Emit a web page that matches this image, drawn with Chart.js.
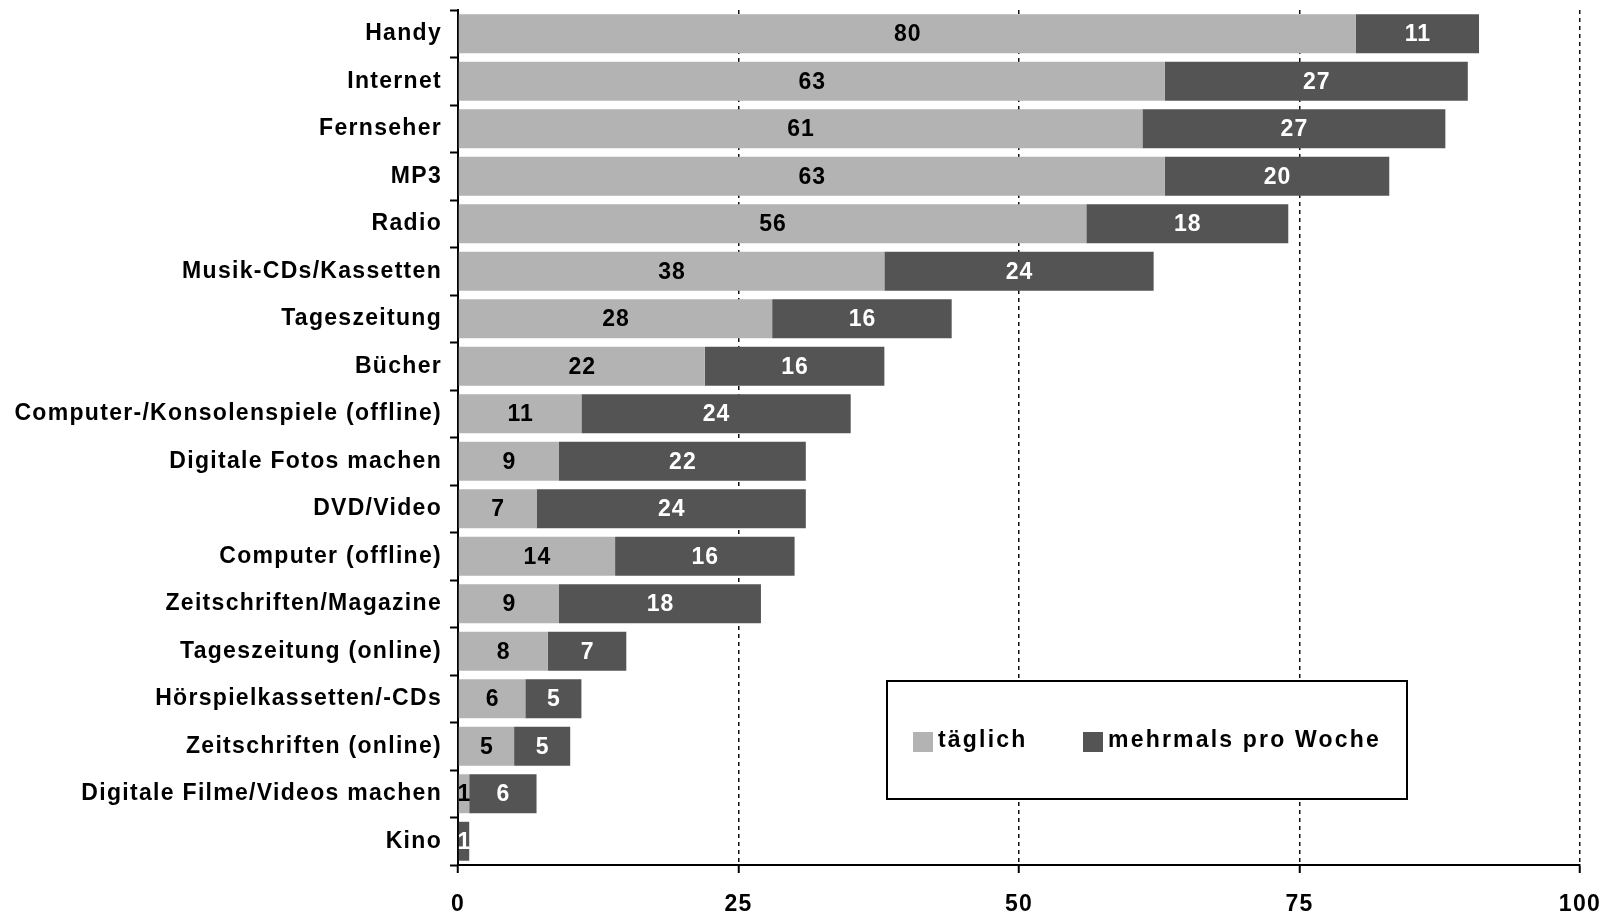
<!DOCTYPE html>
<html lang="de">
<head>
<meta charset="UTF-8">
<title>Mediennutzung</title>
<script src="https://cdn.jsdelivr.net/npm/chart.js"></script>
<style>
    html, body { margin: 0; padding: 0; background: #fff; }
    #wrap { width: 1608px; height: 911px; }
</style>
</head>
<body>
<div id="wrap"><canvas id="chart" width="1608" height="911"></canvas></div>
<script>
// categories and values (percent)
const categories = [
    'Handy', 'Internet', 'Fernseher', 'MP3', 'Radio', 'Musik-CDs/Kassetten',
    'Tageszeitung', 'Bücher', 'Computer-/Konsolenspiele (offline)',
    'Digitale Fotos machen', 'DVD/Video', 'Computer (offline)',
    'Zeitschriften/Magazine', 'Tageszeitung (online)', 'Hörspielkassetten/-CDs',
    'Zeitschriften (online)', 'Digitale Filme/Videos machen', 'Kino'
];
const taeglich = [80, 63, 61, 63, 56, 38, 28, 22, 11, 9, 7, 14, 9, 8, 6, 5, 1, 0];
const mehrmals = [11, 27, 27, 20, 18, 24, 16, 16, 24, 22, 24, 16, 18, 7, 5, 5, 6, 1];
const xTicks = [0, 25, 50, 75, 100];

const LIGHT = '#b3b3b3';
const DARK = '#545454';
const FONT = '"Liberation Sans", Arial, sans-serif';

// slightly spaced-out lettering for all text on the canvas
const spacing = {
    id: 'spacing',
    beforeDraw(chart) { chart.ctx.letterSpacing = '1.3px'; },
    afterDraw(chart) { chart.ctx.letterSpacing = '0px'; }
};

// value labels centred in each segment
const barLabels = {
    id: 'barLabels',
    afterDatasetsDraw(chart) {
        const ctx = chart.ctx;
        ctx.save();
        ctx.font = 'bold 23px ' + FONT;
        ctx.letterSpacing = '1px';
        ctx.textAlign = 'center';
        ctx.textBaseline = 'middle';
        chart.data.datasets.forEach((ds, i) => {
            const meta = chart.getDatasetMeta(i);
            ctx.fillStyle = i === 0 ? '#000' : '#fff';
            meta.data.forEach((bar, j) => {
                const v = ds.data[j];
                if (!v) return;
                ctx.fillText(String(v), (bar.x + bar.base) / 2 + 0.5, bar.y + 1);
            });
        });
        ctx.restore();
    }
};

// framed legend inside the plot area
const boxLegend = {
    id: 'boxLegend',
    afterDraw(chart) {
        const ctx = chart.ctx;
        const x0 = 887, y0 = 681, w = 520, h = 118;
        ctx.save();
        ctx.fillStyle = '#fff';
        ctx.fillRect(x0, y0, w, h);
        ctx.lineWidth = 2;
        ctx.strokeStyle = '#000';
        ctx.strokeRect(x0, y0, w, h);
        ctx.font = 'bold 23px ' + FONT;
        ctx.letterSpacing = '2.2px';
        ctx.textBaseline = 'middle';
        const items = [
            { x: 913, color: LIGHT, text: chart.data.datasets[0].label },
            { x: 1083, color: DARK, text: chart.data.datasets[1].label }
        ];
        items.forEach(it => {
            ctx.fillStyle = it.color;
            ctx.fillRect(it.x, 732, 20, 20);
            ctx.fillStyle = '#000';
            ctx.fillText(it.text, it.x + 25, 741);
        });
        ctx.restore();
    }
};

new Chart(document.getElementById('chart'), {
    type: 'bar',
    data: {
        labels: categories,
        datasets: [
            { label: 'täglich', data: taeglich, backgroundColor: LIGHT },
            { label: 'mehrmals pro Woche', data: mehrmals, backgroundColor: DARK }
        ]
    },
    options: {
        indexAxis: 'y',
        responsive: false,
        animation: false,
        layout: { padding: { top: 10, right: 28, left: 0, bottom: 0 } },
        datasets: { bar: { categoryPercentage: 1, barPercentage: 0.82 } },
        plugins: { legend: { display: false }, tooltip: { enabled: false } },
        scales: {
            x: {
                stacked: true,
                min: 0,
                max: 100,
                afterBuildTicks(scale) { scale.ticks = xTicks.map(v => ({ value: v })); },
                afterFit(scale) { scale.height = 46; scale.paddingLeft = 0; scale.paddingRight = 0; },
                ticks: {
                    color: '#000',
                    font: { family: FONT, size: 23, weight: 'bold' },
                    padding: 18
                },
                grid: {
                    color: c => (c.tick && c.tick.value === 0 ? 'rgba(0,0,0,0)' : '#111'),
                    lineWidth: 1.5,
                    tickLength: 8,
                    tickColor: '#000',
                    tickWidth: 2,
                    tickBorderDash: []
                },
                border: { display: true, color: '#000', width: 2, dash: [4, 4] }
            },
            y: {
                stacked: true,
                afterFit(scale) { scale.width = 458; scale.paddingTop = 0; scale.paddingBottom = 0; },
                ticks: {
                    color: '#000',
                    font: { family: FONT, size: 23, weight: 'bold' },
                    padding: 8,
                    autoSkip: false
                },
                grid: {
                    offset: true,
                    drawOnChartArea: false,
                    tickLength: 8,
                    tickColor: '#000',
                    tickWidth: 2
                },
                border: { display: true, color: '#000', width: 2 }
            }
        }
    },
    plugins: [spacing, barLabels, boxLegend]
});
</script>
</body>
</html>
